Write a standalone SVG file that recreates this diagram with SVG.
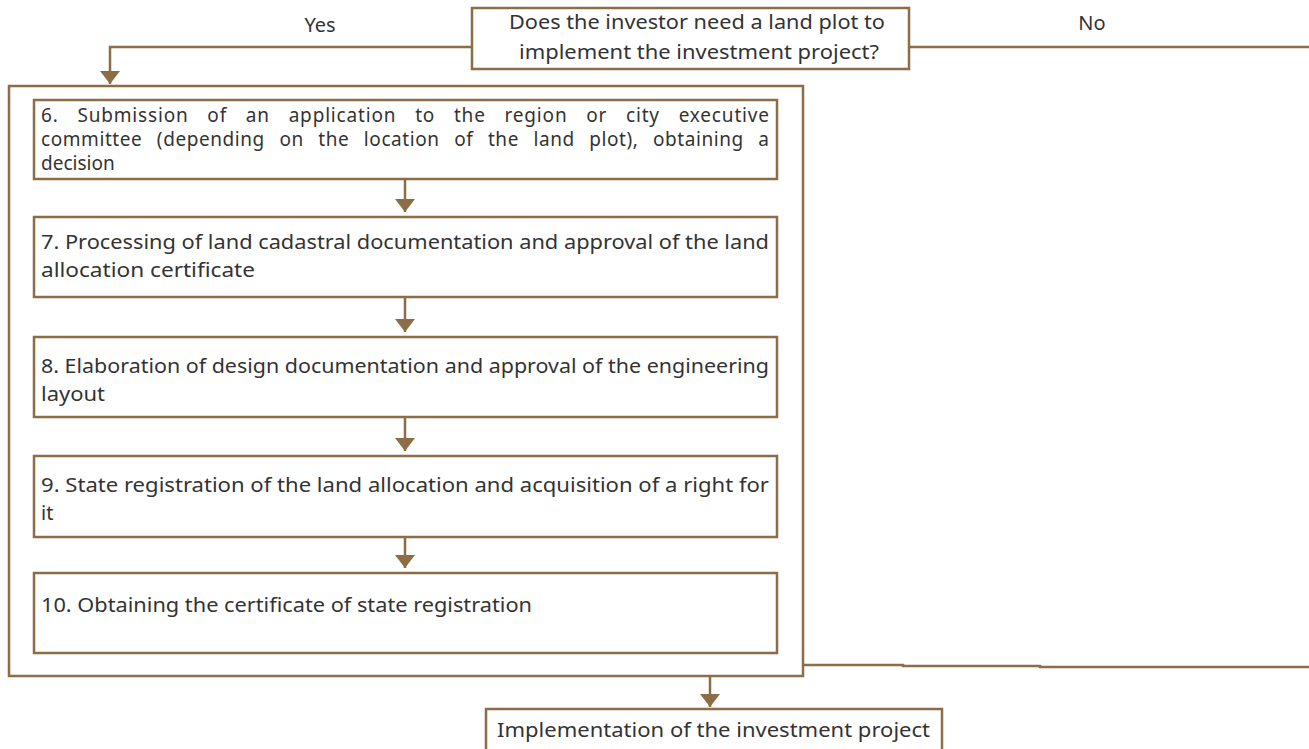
<svg xmlns="http://www.w3.org/2000/svg" width="1309" height="749" viewBox="0 0 1309 749">
  <style>
    .box { fill: #ffffff; stroke: #8c6d46; stroke-width: 2.5; }
    .frame { fill: none; stroke: #8c6d46; stroke-width: 2.5; }
    .wire { fill: none; stroke: #8c6d46; stroke-width: 2.5; }
    .lbl { font-family: "Noto Sans", "Liberation Sans", sans-serif; font-size: 20px; fill: #333333; }
    .tight { font-size: 19px; }
    .mid { text-anchor: middle; }
  </style>
  <defs>
    <marker id="arrow" viewBox="0 0 13 20" refX="13" refY="10" markerWidth="13" markerHeight="20" markerUnits="userSpaceOnUse" orient="auto">
      <path d="M0,0 L13,10 L0,20 Z" fill="#8c6d46"/>
    </marker>
  </defs>
  <rect width="1309" height="749" fill="#ffffff"/>

  <!-- enclosing frame for the land-plot procedure -->
  <g id="land-procedure">
    <rect class="frame" x="9" y="86" width="794" height="590"/>
  </g>

  <g id="connectors">
    <path class="wire" d="M471,47 H110 V84" marker-end="url(#arrow)"/>
    <path class="wire" d="M909,47 H1309"/>
    <path class="wire" d="M803,665 H903 V666 H1040 V667 H1309"/>
    <path class="wire" d="M405,179 V212" marker-end="url(#arrow)"/>
    <path class="wire" d="M405,297 V332" marker-end="url(#arrow)"/>
    <path class="wire" d="M405,417 V451" marker-end="url(#arrow)"/>
    <path class="wire" d="M405,537 V568" marker-end="url(#arrow)"/>
    <path class="wire" d="M710,676 V707" marker-end="url(#arrow)"/>
    <text class="lbl mid" x="320" y="32">Yes</text>
    <text class="lbl mid" x="1092" y="30">No</text>
  </g>

  <g id="decision">
    <rect class="box" x="472" y="8" width="437" height="61"/>
    <text class="lbl" x="509" y="29" textLength="376" lengthAdjust="spacingAndGlyphs">Does the investor need a land plot to</text>
    <text class="lbl" x="519" y="59" textLength="360" lengthAdjust="spacingAndGlyphs">implement the investment project?</text>
  </g>

  <g id="step-6">
    <rect class="box" x="34" y="100" width="743" height="79"/>
    <text class="lbl tight" x="41" y="122" word-spacing="13" textLength="728" lengthAdjust="spacing">6. Submission of an application to the region or city executive</text>
    <text class="lbl tight" x="41" y="146" word-spacing="9" textLength="728" lengthAdjust="spacing">committee (depending on the location of the land plot), obtaining a</text>
    <text class="lbl tight" x="41" y="170">decision</text>
  </g>

  <g id="step-7">
    <rect class="box" x="34" y="217" width="743" height="80"/>
    <text class="lbl" x="41" y="249" textLength="728" lengthAdjust="spacingAndGlyphs">7. Processing of land cadastral documentation and approval of the land</text>
    <text class="lbl" x="41" y="277" textLength="214" lengthAdjust="spacingAndGlyphs">allocation certificate</text>
  </g>

  <g id="step-8">
    <rect class="box" x="34" y="337" width="743" height="80"/>
    <text class="lbl" x="41" y="373" textLength="728" lengthAdjust="spacingAndGlyphs">8. Elaboration of design documentation and approval of the engineering</text>
    <text class="lbl" x="41" y="401" textLength="64" lengthAdjust="spacingAndGlyphs">layout</text>
  </g>

  <g id="step-9">
    <rect class="box" x="34" y="456" width="743" height="81"/>
    <text class="lbl" x="41" y="492" textLength="728" lengthAdjust="spacingAndGlyphs">9. State registration of the land allocation and acquisition of a right for</text>
    <text class="lbl" x="41" y="520">it</text>
  </g>

  <g id="step-10">
    <rect class="box" x="34" y="573" width="743" height="80"/>
    <text class="lbl" x="41" y="612" textLength="491" lengthAdjust="spacingAndGlyphs">10. Obtaining the certificate of state registration</text>
  </g>

  <g id="implementation">
    <rect class="box" x="486" y="709" width="456" height="60"/>
    <text class="lbl" x="497" y="737" textLength="433" lengthAdjust="spacingAndGlyphs">Implementation of the investment project</text>
  </g>
</svg>
